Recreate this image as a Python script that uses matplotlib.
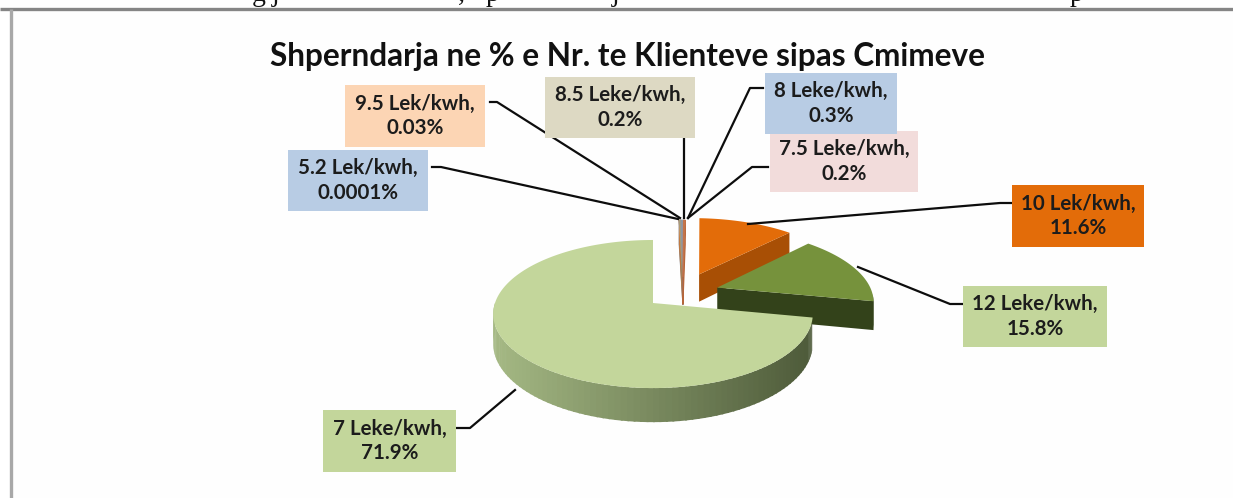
import numpy as np
import matplotlib
matplotlib.use('Agg')
import matplotlib.pyplot as plt
from matplotlib.patches import Polygon, Rectangle

# te dhenat
labels = ['7 Leke/kwh', '12 Leke/kwh', '10 Lek/kwh', '7.5 Leke/kwh', '8 Leke/kwh',
          '8.5 Leke/kwh', '9.5 Lek/kwh', '5.2 Lek/kwh']
percent_text = ['71.9%', '15.8%', '11.6%', '0.2%', '0.3%', '0.2%', '0.03%', '0.0001%']
values = [71.9, 15.8, 11.6, 0.2, 0.3, 0.2, 0.03, 0.0001]
title = 'Shperndarja ne % e Nr. te Klienteve sipas Cmimeve'

top_colors = ['#c3d69b', '#76923c', '#e36c09', '#c4744a', '#8f96a3', '#a59d7c', '#d98a4e', '#8f96a3']
side_colors = ['#7d8f5f', '#33421a', '#a84f05', '#b5653a', '#7d8490', '#8f8868', '#c07a42', '#7d8490']
box_colors = ['#c3d69b', '#c3d69b', '#e36c09', '#f2dcdb', '#b8cce4', '#ddd9c3', '#fcd5b4', '#b8cce4']

# kutite e etiketave: x0, y0, x1, y1 ne piksel
boxes = [(323, 410, 456, 472), (963, 286, 1107, 347), (1012, 185, 1144, 247), (770, 131, 918, 192),
         (765, 73, 897, 134), (545, 77, 695, 138), (345, 85, 485, 147), (288, 150, 428, 211)]
leaders = [[(457, 428), (470, 428), (515, 390)],
           [(963, 304), (950, 304), (858, 267)],
           [(1011, 203), (1000, 203), (748, 224)],
           [(768, 167), (752, 167), (688, 218)],
           [(763, 88), (750, 88), (688, 218)],
           [(684, 139), (684, 218)],
           [(490, 102), (497, 102), (680, 218)],
           [(432, 167), (441, 167), (678, 219)]]
# sa larg del cdo fete nga qendra
explode = [(0, 0), (0.42, 0.22), (0.31, 0.42), (0.2, 0.38), (0.2, 0.38), (0.2, 0.38), (0.2, 0.38), (0.2, 0.38)]

cx, cy, rx, ry, k, depth = 653, 303, 158, 72.4, 0.149, 29


def project(u, v):
    s = 1 / (1 + k * v)
    return cx + rx * u * s, cy - ry * v * s, s


def arc(a0, a1, off):
    t = np.radians(np.linspace(a0, a1, max(int(abs(a1 - a0)) * 2, 3)))
    return project(np.cos(t) + off[0], np.sin(t) + off[1])


def shade(c0, c1, f):
    a = np.array(matplotlib.colors.to_rgb(c0))
    b = np.array(matplotlib.colors.to_rgb(c1))
    return a + (b - a) * f


plt.rcParams['font.family'] = ['Lato', 'DejaVu Sans']
fig = plt.figure(figsize=(12.33, 4.98), dpi=100, facecolor='white')
ax = fig.add_axes([0, 0, 1, 1])
ax.set_xlim(0, 1233)
ax.set_ylim(498, 0)
ax.axis('off')

# korniza dhe teksti i prere siper
ax.add_patch(Rectangle((10, 10), 1240, 500, fc='#fefefe', ec='none', zorder=0))
ax.plot([0, 1233], [9, 9], color='#858585', lw=2.4, zorder=1, solid_capstyle='butt')
ax.plot([11, 11], [9, 498], color='#a8a8a8', lw=2.4, zorder=1, solid_capstyle='butt')
for ch, x in [('g', 252), ('j', 272), (',', 458), ('p', 486), ('j', 612), ('p', 1070)]:
    ax.text(x, 0.5, ch, family='Liberation Serif', fontsize=20, color='#111111', va='baseline', zorder=0.5)

fracs = np.array(values) / sum(values) * 360
starts = 90 + np.concatenate([[0], np.cumsum(fracs)[:-1]])

# fetat e vogla, pastaj 10, 12 dhe ne fund 7
for i in [7, 6, 5, 4, 3, 2, 1, 0]:
    a0, a1 = starts[i], starts[i] + fracs[i]
    off = explode[i]
    x, y, s = arc(a0, a1, off)
    ax0, ay0, s0 = project(off[0], off[1])
    z = 3 + (8 - i)
    small = i > 2

    # faqja anesore
    if i == 0:
        t = np.arange(180, a1 - 1.5, 2.0)
        for j in range(len(t) - 1):
            xs, ys, ss = arc(t[j], t[j + 1] + 0.6, off)
            c = shade('#a6ba85', '#4e5b3a', (np.mean(xs) - 490) / 320)
            poly = np.vstack([np.c_[xs, ys], np.c_[xs, ys + depth * ss][::-1]])
            ax.add_patch(Polygon(poly, fc=c, ec='none', zorder=z))
    else:
        # faqja radiale nga qendra te fundi i harkut
        poly = [(ax0, ay0), (x[0], y[0]), (x[0], y[0] + depth * s[0]), (ax0, ay0 + depth * s0)]
        ax.add_patch(Polygon(poly, fc=side_colors[i], ec=side_colors[i] if small else 'none',
                             lw=0.8, zorder=z))
        if i == 1:
            xs, ys, ss = arc(a0, a0 + 6, off)
            ax.add_patch(Polygon(np.vstack([np.c_[xs, ys], np.c_[xs, ys + depth * ss][::-1]]),
                                 fc=side_colors[i], ec='none', zorder=z))

    # faqja e siperme
    top = np.vstack([[ax0, ay0], np.c_[x, y]])
    ax.add_patch(Polygon(top, fc=top_colors[i], ec=top_colors[i] if small else 'none',
                         lw=0.8, zorder=z + 0.5))

# vijat dhe etiketat
for i in range(len(labels)):
    pts = np.array(leaders[i])
    ax.plot(pts[:, 0], pts[:, 1], color='#0d0d0d', lw=1.6, zorder=20, solid_joinstyle='round')

for i in range(len(labels)):
    x0, y0, x1, y1 = boxes[i]
    ax.add_patch(Rectangle((x0, y0), x1 - x0, y1 - y0, fc=box_colors[i], ec='none', zorder=21))
    ax.text((x0 + x1) / 2, (y0 + y1) / 2, labels[i] + ',\n' + percent_text[i], ha='center', va='center',
            fontsize=14.8, fontweight='bold', color='#1c1c1c', linespacing=1.3, zorder=22)

ax.text(627, 56, title, ha='center', va='center', fontsize=22.7, fontweight='bold', color='#111111', zorder=22)

plt.savefig('out.png', dpi=100)
